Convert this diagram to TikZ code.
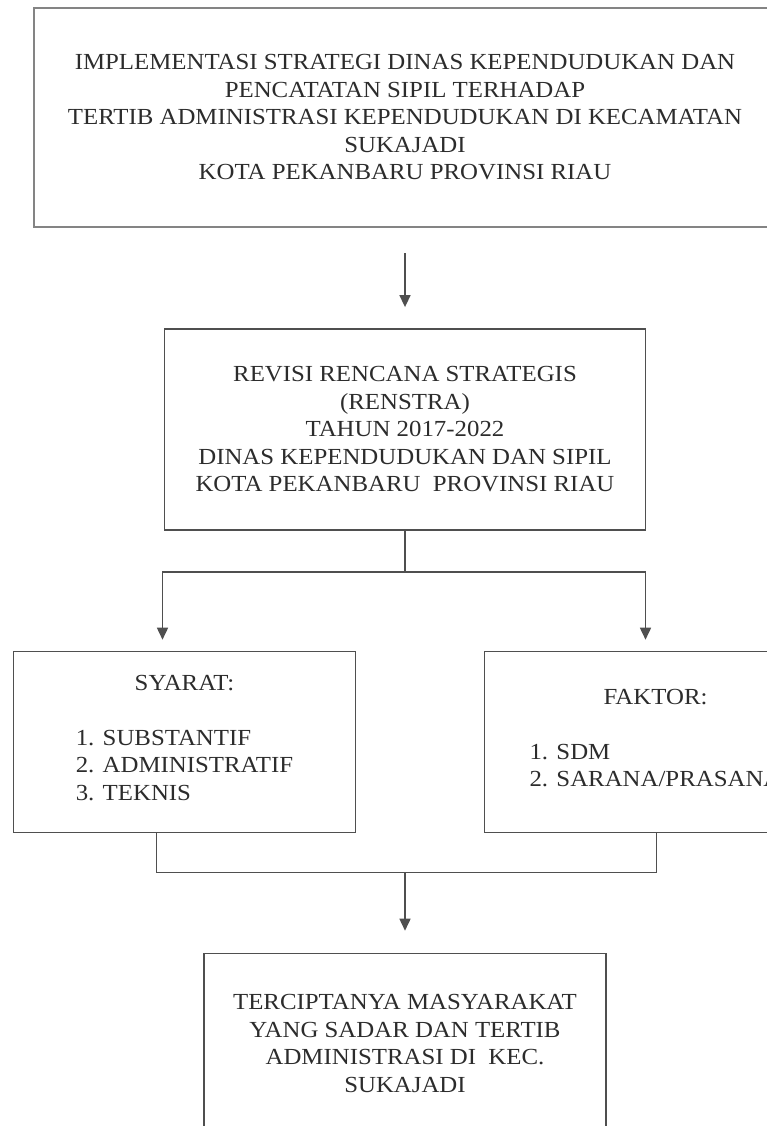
\documentclass[tikz,border=0pt]{standalone}
\usepackage{fontspec}
\setmainfont{Liberation Serif}[FakeStretch=1.08]
\usetikzlibrary{shapes,arrows.meta,positioning}
\definecolor{garis}{HTML}{4F4F4F}
\definecolor{huruf}{HTML}{2C2C2C}
\def\Judul{IMPLEMENTASI STRATEGI DINAS KEPENDUDUKAN DAN\\ PENCATATAN SIPIL TERHADAP\\ TERTIB ADMINISTRASI KEPENDUDUKAN DI KECAMATAN\\ SUKAJADI\\ KOTA PEKANBARU PROVINSI RIAU}

\begin{document}
\begin{tikzpicture}[% styles for every box and line, override case by case
			every node/.style={
				align=center,  		% so that "\\" breaks the line
				text=huruf,
				font=\fontsize{23}{27.5}\selectfont
			},
			kotak/.style={rectangle,draw=garis,line width=1.6pt},
			garisan/.style={draw=garis,line width=1.6pt},
			every edge/.style={garisan},
			>={Triangle[length=12pt,width=11pt]}
		]
		\useasboundingbox (0,0) rectangle (767pt,-1126pt);
		\node[kotak,draw=garis!70,line width=2.2pt,minimum width=742pt,minimum height=219pt](R1) at (405pt,-117.5pt){\Judul};
		\node[kotak,minimum width=481pt,minimum height=201pt](R2)[below=100pt of R1]{REVISI RENCANA STRATEGIS\\ (RENSTRA)\\ TAHUN 2017-2022\\ DINAS KEPENDUDUKAN DAN SIPIL\\ KOTA PEKANBARU~~PROVINSI RIAU};
		\node[kotak,minimum width=342pt,minimum height=181pt](R3)[below=120pt of R2,xshift=-220.5pt]{SYARAT:\\[27.5pt]\begin{tabular}[t]{@{}l@{}}1. SUBSTANTIF\\ 2. ADMINISTRATIF\\ 3. TEKNIS\end{tabular}};
		\node[kotak,minimum width=342pt,minimum height=181pt](R4)[below=120pt of R2,xshift=250.5pt]{FAKTOR:\\[27.5pt]\begin{tabular}[t]{@{}l@{}}1. SDM\\ 2. SARANA/PRASANA\end{tabular}};
		\node[kotak,minimum width=402pt,minimum height=180pt](R5)[below=422pt of R2]{TERCIPTANYA MASYARAKAT\\ YANG SADAR DAN TERTIB\\ ADMINISTRASI DI~~KEC.\\ SUKAJADI};
		\coordinate (A3) at ([xshift=-22pt,yshift=11pt]R3.north);
		\coordinate (A4) at ([xshift=-10pt,yshift=11pt]R4.north);
		\path[->]
		([yshift=-25pt]R1.south) edge [] node [] {} ([yshift=21pt]R2.north)
		;
		\draw[garisan,->] (R2.south) -- ++(0,-41pt) -| (A3);
		\draw[garisan,->] (R2.south) -- ++(0,-41pt) -| (A4);
		\draw[garisan] ([xshift=-28pt]R3.south) -- ++(0,-39pt) coordinate (J1) -| ([xshift=1pt]R4.south);
		\draw[garisan,->] (J1 -| R5.north) -- ([yshift=22pt]R5.north);
	\end{tikzpicture}
\end{document}
